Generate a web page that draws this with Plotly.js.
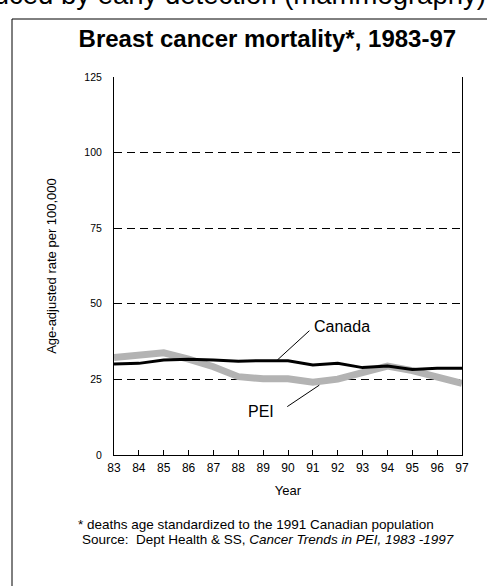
<!DOCTYPE html>
<html><head><meta charset="utf-8">
<script src="https://cdn.plot.ly/plotly-3.0.1.min.js"></script>
<style>html,body{margin:0;padding:0;background:#fff;}#chart{width:487px;height:586px;}</style>
</head><body><div id="chart"></div>
<script>
const years = [83,84,85,86,87,88,89,90,91,92,93,94,95,96,97];
const canada = [30.1,30.3,31.4,31.7,31.4,31.0,31.2,31.2,29.8,30.3,28.9,29.4,28.3,28.7,28.7];
const pei = [32.2,33.0,33.8,31.7,29.2,25.9,25.2,25.2,24.1,25.1,27.2,29.4,27.9,25.9,23.7];
const yTicks = [0,25,50,75,100,125];

const F = 'Arial, "Liberation Sans", sans-serif';
const traces = [
  {x: years, y: pei, mode: 'lines', line: {color: '#b3b3b3', width: 7}, name: 'PEI', hoverinfo: 'skip'},
  {x: years, y: canada, mode: 'lines', line: {color: '#000', width: 3}, name: 'Canada', hoverinfo: 'skip'}
];
const layout = {
  width: 487, height: 586,
  margin: {l: 114, r: 25, t: 77, b: 131},
  paper_bgcolor: '#fff', plot_bgcolor: '#fff',
  showlegend: false,
  font: {family: F, color: '#000'},
  title: {text: '<b>Breast cancer mortality*, 1983-97</b>', font: {family: F, size: 24, color: '#000'},
    xref: 'container', yref: 'container', x: 0.549, xanchor: 'center', y: 1 - 38.5/586, yanchor: 'middle'},
  xaxis: {
    range: [83, 97], tickvals: years, ticktext: years.map(String),
    showline: true, linecolor: '#000', linewidth: 1, mirror: false,
    ticks: 'inside', ticklen: 5, tickcolor: '#000', showgrid: false, zeroline: false,
    tickfont: {size: 12, family: F}, ticklabelstandoff: 2, fixedrange: true,
    title: {text: 'Year', font: {size: 13, family: F}, standoff: 11}
  },
  yaxis: {
    range: [0, 125], tickvals: yTicks, ticktext: yTicks.map(String),
    showline: true, linecolor: '#000', linewidth: 1, mirror: true,
    ticks: 'inside', ticklen: 5, tickcolor: '#000',
    showgrid: true, gridcolor: '#000', gridwidth: 1, griddash: '8px,5px', zeroline: false,
    tickfont: {size: 10.5, family: F}, ticklabelstandoff: 9, fixedrange: true,
    title: {text: 'Age-adjusted rate per 100,000', font: {size: 13, family: F}, standoff: 24}
  },
  annotations: [
    {xref: 'x', yref: 'y', x: 90.95, y: 42.4, text: 'Canada', showarrow: false, xanchor: 'left', yanchor: 'middle', font: {size: 16, family: F}},
    {xref: 'x', yref: 'y', x: 89.5, y: 14.3, text: 'PEI', showarrow: false, xanchor: 'right', yanchor: 'middle', font: {size: 16, family: F}},
    {xref: 'paper', yref: 'paper', x: (488-114)/348, y: (455+5)/378, text: 'reduced by early detection (mammography)', showarrow: false, xanchor: 'right', yanchor: 'middle', font: {size: 27.5, family: F}},
    {xref: 'paper', yref: 'paper', x: (76-114)/348, y: (455-524)/378, text: '* deaths age standardized to the 1991 Canadian population', showarrow: false, xanchor: 'left', yanchor: 'middle', font: {size: 13.5, family: F}},
    {xref: 'paper', yref: 'paper', x: (80-114)/348, y: (455-539)/378, text: 'Source:  Dept Health &amp; SS, <i>Cancer Trends in PEI, 1983 -1997</i>', showarrow: false, xanchor: 'left', yanchor: 'middle', font: {size: 13.5, family: F}}
  ],
  shapes: [
    {type: 'line', xref: 'x', yref: 'y', x0: 90.86, y0: 41.1, x1: 89.57, y1: 31.4, line: {color: '#000', width: 1}},
    {type: 'line', xref: 'x', yref: 'y', x0: 89.97, y0: 16.0, x1: 91.26, y1: 23.1, line: {color: '#000', width: 1}},
    {type: 'rect', xref: 'paper', yref: 'paper', x0: (12-114)/348, x1: (500-114)/348, y0: (455-600)/378, y1: (455-19)/378, line: {color: '#000', width: 1}}
  ]
};
Plotly.newPlot('chart', traces, layout, {displayModeBar: false, staticPlot: true});
</script>
</body></html>
